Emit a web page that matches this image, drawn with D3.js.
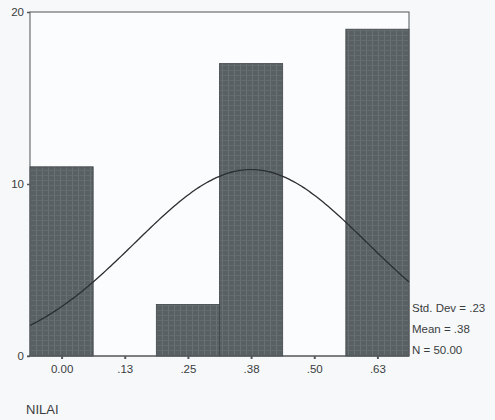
<!DOCTYPE html>
<html lang="en">
<head>
    <meta charset="UTF-8">
    <title>NILAI histogram</title>
    <script src="https://d3js.org/d3.v7.min.js"></script>
    <style>
        body { margin: 0; background: #f7f8fa; }
        svg { display: block; }
        text { font-family: "Liberation Sans", Arial, sans-serif; fill: #3a3d40; }
    </style>
</head>
<body>
    <div id="chart"></div>
    <script>
        // bin midpoints and counts (bin width .125)
        const binCenters = [0, 0.125, 0.25, 0.375, 0.5, 0.625];
        const binCounts = [11, 0, 3, 17, 0, 19];
        const tickLabels = ["0.00", ".13", ".25", ".38", ".50", ".63"];
        const yTicks = [0, 10, 20];
        const statLabels = ["Std. Dev = .23", "Mean = .38", "N = 50.00"];
        const stdDev = 0.23, mean = 0.375, nTotal = 50, binWidth = 0.125;

        const width = 495, height = 420;
        const margin = { top: 12, right: 86, bottom: 64, left: 30 };

        const svg = d3.select("#chart").append("svg")
            .attr("width", width)
            .attr("height", height);

        // scanned look for the bars
        const pat = svg.append("defs").append("pattern")
            .attr("id", "grain")
            .attr("patternUnits", "userSpaceOnUse")
            .attr("width", 6).attr("height", 5);
        pat.append("rect").attr("width", 6).attr("height", 5).attr("fill", "#596064");
        pat.append("rect").attr("x", 0).attr("width", 1).attr("height", 5).attr("fill", "#6a7175");
        pat.append("rect").attr("y", 0).attr("width", 6).attr("height", 1).attr("fill", "#656c70");

        const x = d3.scaleLinear()
            .domain([-binWidth / 2, 0.625 + binWidth / 2])
            .range([margin.left, width - margin.right]);

        const y = d3.scaleLinear()
            .domain([0, 20])
            .range([height - margin.bottom, margin.top]);

        // plot box
        svg.append("rect")
            .attr("x", x.range()[0])
            .attr("y", y(20))
            .attr("width", x.range()[1] - x.range()[0])
            .attr("height", y(0) - y(20))
            .attr("fill", "#fbfcfd")
            .attr("stroke", "#5f6366")
            .attr("stroke-width", 1.1);

        // bars
        svg.selectAll("rect.bar")
            .data(binCenters.map((c, i) => ({ c, n: binCounts[i] })).filter(d => d.n > 0))
            .enter()
            .append("rect")
            .attr("class", "bar")
            .attr("x", d => x(d.c - binWidth / 2))
            .attr("y", d => y(d.n))
            .attr("width", d => x(d.c + binWidth / 2) - x(d.c - binWidth / 2))
            .attr("height", d => y(0) - y(d.n))
            .attr("fill", "url(#grain)")
            .attr("stroke", "#3f4447")
            .attr("stroke-width", 0.8);

        // normal curve from the stats shown at the right
        const curvePts = d3.range(x.domain()[0], x.domain()[1] + 0.0001, 0.005).map(v => {
            const z = (v - mean) / stdDev;
            return [v, nTotal * binWidth / (stdDev * Math.sqrt(2 * Math.PI)) * Math.exp(-0.5 * z * z)];
        });
        svg.append("path")
            .datum(curvePts)
            .attr("fill", "none")
            .attr("stroke", "#2a2e31")
            .attr("stroke-width", 1.3)
            .attr("d", d3.line().x(d => x(d[0])).y(d => y(d[1])).curve(d3.curveMonotoneX));

        // x axis
        const xAxis = svg.append("g")
            .attr("transform", "translate(0," + y(0) + ")")
            .call(d3.axisBottom(x).tickValues(binCenters).tickFormat((d, i) => tickLabels[i]).tickSize(3).tickPadding(6));
        xAxis.select(".domain").attr("d", "M" + (margin.left - 3) + ",0H" + x.range()[1]).attr("stroke", "#55595c").attr("stroke-width", 1.2);
        xAxis.selectAll("line").attr("stroke", "#55595c").attr("stroke-width", 2);
        xAxis.selectAll("text").style("font-size", "11.5px");

        // y axis
        const yAxis = svg.append("g")
            .attr("transform", "translate(" + margin.left + ",0)")
            .call(d3.axisLeft(y).tickValues(yTicks).tickSize(3).tickPadding(3));
        yAxis.select(".domain").remove();
        yAxis.selectAll("line").attr("stroke", "#55595c").attr("stroke-width", 1.5);
        yAxis.selectAll("text").style("font-size", "11.5px");

        // stats
        svg.selectAll("text.stat")
            .data(statLabels)
            .enter()
            .append("text")
            .attr("class", "stat")
            .attr("x", x.range()[1] + 3)
            .attr("y", (d, i) => 312 + i * 21)
            .style("font-size", "11.5px")
            .text(d => d);

        svg.append("text")
            .attr("x", 26)
            .attr("y", 414)
            .style("font-size", "13px")
            .text("NILAI");
    </script>
</body>
</html>
